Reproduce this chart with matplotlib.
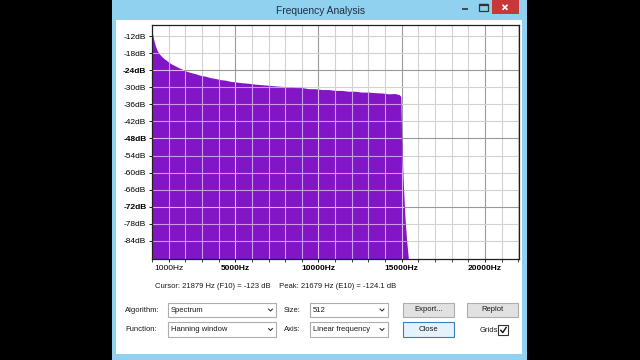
import matplotlib
matplotlib.use("Agg")
import matplotlib.pyplot as plt
from matplotlib.patches import Rectangle
from matplotlib.lines import Line2D
from matplotlib.transforms import Affine2D

# ---------------- data ----------------
freqs_hz = [0, 43, 86, 172, 258, 344, 430, 560, 700, 860, 1030, 1200, 1400, 1600,
            1800, 2000, 2300, 2600, 2900, 3200, 3500, 3800, 4100, 4400, 4700, 5000,
            5400, 5800, 6200, 6600, 7000, 7400, 7800, 8200, 8600, 9000, 9400, 9800,
            10200, 10600, 11000, 11400, 11800, 12200, 12600, 13000, 13400, 13800,
            14200, 14600, 14850, 14950, 15000, 15100, 15200, 15300, 15400, 15450, 22050]
level_db = [-10.2, -11.5, -12.8, -14.8, -16.3, -17.4, -18.2, -19.0, -19.8, -20.5, -21.3,
            -21.9, -22.5, -23.1, -23.6, -24.2, -24.8, -25.2, -25.8, -26.1, -26.6, -26.9,
            -27.3, -27.5, -27.9, -28.1, -28.4, -28.6, -28.9, -29.1, -29.3, -29.5, -29.7,
            -29.8, -30.1, -30.1, -30.5, -30.5, -30.8, -30.8, -31.1, -31.1, -31.4, -31.4,
            -31.7, -31.7, -31.9, -32.0, -32.3, -32.2, -32.6, -33.2, -48.0, -64.0, -76.0,
            -84.0, -90.0, -120.0, -120.0]
y_ticks = [-12, -18, -24, -30, -36, -42, -48, -54, -60, -66, -72, -78, -84]
y_major = [-24, -48, -72]
x_label_ticks = [1000, 5000, 10000, 15000, 20000]
x_major = [5000, 10000, 15000, 20000]
title = "Frequency Analysis"
cursor_text = "Cursor: 21879 Hz (F10) = -123 dB    Peak: 21679 Hz (E10) = -124.1 dB"
controls_row1 = ["Algorithm:", "Spectrum", "Size:", "512", "Export...", "Replot"]
controls_row2 = ["Function:", "Hanning window", "Axis:", "Linear frequency", "Close", "Grids"]

# ---------------- figure ----------------
W, H = 640, 360
fig = plt.figure(figsize=(6.4, 3.6), dpi=100)
fig.patch.set_facecolor("black")
T = Affine2D().scale(1 / W, -1 / H).translate(0, 1) + fig.transFigure

FONT = "Liberation Sans"
BLUE = "#8FD1EF"
UI = 5.5

def rect(x0, y0, x1, y1, fc, ec="none", lw=0.8, z=1):
    r = Rectangle((x0, y0), x1 - x0, y1 - y0, transform=T, facecolor=fc,
                  edgecolor=ec, linewidth=lw, zorder=z)
    fig.add_artist(r)

def line(xs, ys, color, lw=1.0, z=3):
    fig.add_artist(Line2D(xs, ys, transform=T, color=color, linewidth=lw, zorder=z,
                          solid_capstyle="butt"))

def txt(x, y, s, size=UI, ha="left", color="#1a1a1a", weight="normal", z=4):
    fig.text(x, y, s, transform=T, fontsize=size, ha=ha, va="center", color=color,
             fontweight=weight, family=FONT, zorder=z)

# window frame
rect(112, 0, 527, 360, BLUE, z=0)
rect(116, 20, 522, 354, "white", z=0.5)
txt(321, 10.5, title, size=7.4, ha="center", color="#1F2F40")
# caption buttons
rect(492, 0, 519, 14, "#C8383B", z=1)
line([502.5, 507.5], [4.8, 9.8], "white", lw=1.2)
line([502.5, 507.5], [9.8, 4.8], "white", lw=1.2)
line([462, 468], [8.5, 8.5], "#333333", lw=1.2)
rect(479, 4, 488, 10.5, "none", ec="#333333", lw=0.9, z=2)
line([479, 488], [4.6, 4.6], "#333333", lw=1.6)

# ---------------- plot ----------------
PX0, PX1, PY0, PY1 = 152, 519, 25, 259
ax = fig.add_axes([PX0 / W, 1 - PY1 / H, (PX1 - PX0) / W, (PY1 - PY0) / H])
ax.set_zorder(10)
ax.set_facecolor("white")
ax.set_xlim(0, 22050)
ax.set_ylim(-90.4, -8.1)

purple = "#8215C6"
fill = ax.fill_between(freqs_hz, level_db, -130, color=purple, linewidth=0, zorder=2)
clip_path = fill.get_paths()[0]

grid_minor_c, grid_major_c = "#D2D2D2", "#9A9A9A"
on_fill_minor, on_fill_major = "#C99BE6", "#D9B8F0"
for f in range(1000, 22001, 1000):
    major = f % 5000 == 0
    ax.axvline(f, color=grid_major_c if major else grid_minor_c, lw=0.8, zorder=1)
    l2 = ax.axvline(f, color=on_fill_major if major else on_fill_minor, lw=0.8, zorder=3)
    l2.set_clip_path(clip_path, ax.transData)
for d in range(-84, -11, 6):
    major = d in y_major
    ax.axhline(d, color=grid_major_c if major else grid_minor_c, lw=0.8, zorder=1)
    l2 = ax.axhline(d, color=on_fill_major if major else on_fill_minor, lw=0.8, zorder=3)
    l2.set_clip_path(clip_path, ax.transData)

for s in ax.spines.values():
    s.set_color("#202020")
    s.set_linewidth(0.9)
    s.set_zorder(5)

ax.set_yticks(y_ticks)
ax.set_yticklabels([f"{v}dB" for v in y_ticks])
ax.set_xticks(x_label_ticks)
ax.set_xticklabels([f"{v}Hz" for v in x_label_ticks])
ax.set_xticks(range(0, 22001, 1000), minor=True)
ax.tick_params(axis="both", which="major", length=2.5, width=0.7, color="#202020",
               labelsize=6.0, pad=1.5)
ax.tick_params(axis="x", which="minor", length=2.0, width=0.6, color="#202020")
for lab, v in zip(ax.get_yticklabels(), y_ticks):
    lab.set_family(FONT)
    lab.set_fontweight("bold" if v in y_major else "normal")
for lab, v in zip(ax.get_xticklabels(), x_label_ticks):
    lab.set_family(FONT)
    lab.set_fontweight("bold" if v in x_major else "normal")

# ---------------- info + controls ----------------
txt(155, 286, cursor_text, size=UI)

def combo(x0, x1, y0, y1, s):
    rect(x0, y0, x1, y1, "white", ec="#ABADB3", lw=0.8, z=2)
    txt(x0 + 3.5, (y0 + y1) / 2, s)
    cx, cy = x1 - 5.5, (y0 + y1) / 2
    line([cx - 2.3, cx, cx + 2.3], [cy - 1.3, cy + 1.0, cy - 1.3], "#333333", lw=0.8)

def button(x0, x1, y0, y1, s, ec="#ADADAD", fc="#E1E1E1"):
    rect(x0, y0, x1, y1, fc, ec=ec, lw=0.8, z=2)
    txt((x0 + x1) / 2, (y0 + y1) / 2, s, ha="center")

r1, r2 = 310, 329.5
txt(125, r1, controls_row1[0])
combo(167.5, 276, 303.3, 316.7, controls_row1[1])
txt(284, r1, controls_row1[2])
combo(309.5, 387.5, 303.3, 316.7, controls_row1[3])
button(403.3, 454, 302.5, 317.3, controls_row1[4])
button(467.3, 518.3, 302.5, 317.3, controls_row1[5])

txt(125, r2, controls_row2[0])
combo(167.5, 276, 322.3, 336.7, controls_row2[1])
txt(284, r2, controls_row2[2])
combo(309.5, 387.5, 322.3, 336.7, controls_row2[3])
button(403.3, 454, 321.7, 336.7, controls_row2[4], ec="#3C7FC0", fc="#E5F1FB")
txt(480, r2 + 0.5, controls_row2[5])
rect(498.3, 325, 508.3, 335, "white", ec="#333333", lw=0.8, z=2)
line([500.3, 502.8, 506.5], [329.8, 332.6, 326.8], "#111111", lw=1.0)

fig.savefig("out.png", dpi=100, facecolor=fig.get_facecolor())
